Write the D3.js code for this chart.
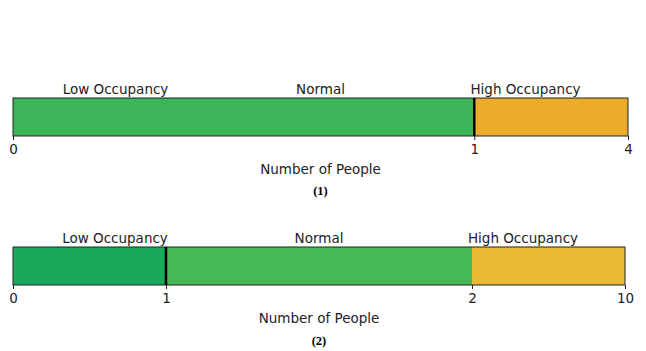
<!DOCTYPE html>
<html>
<head>
<meta charset="utf-8">
<script src="https://cdn.jsdelivr.net/npm/d3@7"></script>
<style>
  body { margin: 0; background: #fff; }
  svg { display: block; }
</style>
</head>
<body>
<script>
  // zone names shown above each bar
  const zoneNames = ["Low Occupancy", "Normal", "High Occupancy"];

  // chart (1)
  const bounds1 = [0, 1, 4];
  const colors1 = ["#3bb557", "#ebac2c"];
  const ticks1 = [0, 1, 4];
  const marker1 = 1;

  // chart (2)
  const bounds2 = [0, 1, 2, 10];
  const colors2 = ["#18a95a", "#46b955", "#e9b931"];
  const ticks2 = [0, 1, 2, 10];
  const marker2 = 1;

  let svg = d3.select("body").append("svg")
    .attr("width", 646)
    .attr("height", 351);

  function drawBar(opts) {
    let g = svg.append("g");
    let w = opts.x1 - opts.x0;
    let x = d3.scaleLinear()
      .domain(opts.bounds)
      .range(opts.fracs.map((f) => opts.x0 + f * w));

    // colored segments
    let segs = opts.colors.map((c, i) => ({ a: opts.bounds[i], b: opts.bounds[i + 1], c: c }));
    g.selectAll(".seg")
      .data(segs)
      .enter()
      .append("rect")
        .attr("x", (d) => x(d.a))
        .attr("y", opts.top)
        .attr("width", (d) => x(d.b) - x(d.a))
        .attr("height", opts.h)
        .attr("fill", (d) => d.c);

    // outline
    g.append("rect")
      .attr("x", opts.x0)
      .attr("y", opts.top)
      .attr("width", w)
      .attr("height", opts.h)
      .attr("fill", "none")
      .attr("stroke", "#222")
      .attr("stroke-width", 1);

    // threshold line
    g.append("line")
      .attr("x1", x(opts.marker))
      .attr("x2", x(opts.marker))
      .attr("y1", opts.top)
      .attr("y2", opts.top + opts.h)
      .attr("stroke", "#000")
      .attr("stroke-width", 2.5);

    // axis
    let axis = d3.axisBottom(x)
      .tickValues(opts.ticks)
      .tickFormat(d3.format("d"))
      .tickSize(4)
      .tickPadding(4);
    let ax = g.append("g")
      .attr("transform", "translate(0," + (opts.top + opts.h) + ")")
      .call(axis);
    ax.select(".domain").remove();
    ax.selectAll("line").attr("stroke", "#222");
    ax.selectAll("text")
      .attr("fill", "#222")
      .style("font-family", "DejaVu Sans")
      .style("font-size", "13.5px");

    // zone labels at 1/6, 1/2, 5/6
    g.selectAll(".zone")
      .data(zoneNames)
      .enter()
      .append("text")
        .attr("x", (d, i) => opts.x0 + w * (2 * i + 1) / 6)
        .attr("y", opts.top - 4)
        .attr("text-anchor", "middle")
        .attr("fill", "#222")
        .style("font-family", "DejaVu Sans")
        .style("font-size", "13.5px")
        .text((d) => d);

    g.append("text")
      .attr("x", opts.x0 + w / 2)
      .attr("y", opts.top + opts.h + 38)
      .attr("text-anchor", "middle")
      .attr("fill", "#222")
      .style("font-family", "DejaVu Sans")
      .style("font-size", "13.5px")
      .text("Number of People");

    g.append("text")
      .attr("x", opts.x0 + w / 2)
      .attr("y", opts.captionY)
      .attr("text-anchor", "middle")
      .attr("fill", "#000")
      .style("font-family", "Liberation Serif")
      .style("font-weight", "bold")
      .style("font-size", "12.5px")
      .text(opts.caption);
  }

  drawBar({
    bounds: bounds1, fracs: [0, 0.75, 1], colors: colors1, ticks: ticks1, marker: marker1,
    x0: 13, x1: 628, top: 98, h: 38, captionY: 195, caption: "(1)"
  });

  drawBar({
    bounds: bounds2, fracs: [0, 0.25, 0.75, 1], colors: colors2, ticks: ticks2, marker: marker2,
    x0: 13, x1: 625, top: 247, h: 38, captionY: 345, caption: "(2)"
  });
</script>
</body>
</html>
